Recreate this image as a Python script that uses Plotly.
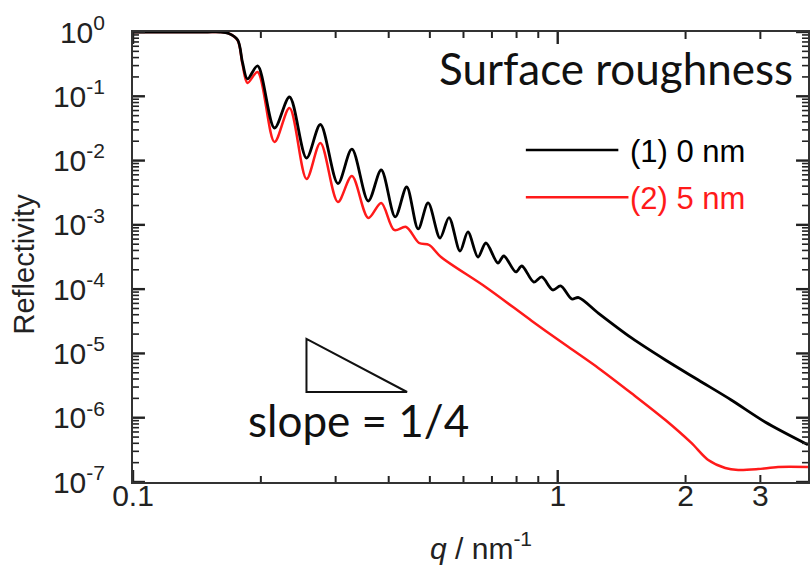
import math
import plotly.graph_objects as go

# ---- data ----
q_0nm = [0.100, 0.130, 0.150, 0.160, 0.168, 0.1764, 0.181, 0.186, 0.1965, 0.2154, 0.2336, 0.2562,
         0.2762, 0.3037, 0.3276, 0.3581, 0.3841, 0.4144, 0.4410, 0.4692, 0.4953, 0.5284,
         0.5547, 0.5888, 0.6146, 0.6490, 0.6776, 0.7230, 0.7467, 0.7968, 0.8233, 0.8785,
         0.9171, 0.9734, 1.016, 1.079, 1.120, 1.248, 1.492, 1.793, 2.143,
         2.562, 3.078, 3.884]
R_0nm = [1.0, 1.0, 1.0, 1.0, 0.95, 0.75, 0.34, 0.186, 0.296, 0.0321, 0.0975, 0.01097,
         0.0364, 0.00440, 0.0151, 0.00235, 0.00713, 0.00133, 0.00388, 0.000863, 0.00219, 0.000625,
         0.00130, 0.000392, 0.000775, 0.000316, 0.000522, 0.000255, 0.000328, 0.000185, 0.000229, 0.000129,
         0.000155, 9.71e-5, 1.12e-4, 7.03e-5, 7.4e-5, 4.2e-5, 1.74e-5, 7.9e-6, 3.86e-6,
         1.89e-6, 8.6e-7, 3.8e-7]

q_5nm = [0.100, 0.130, 0.150, 0.160, 0.168, 0.1764, 0.181, 0.186, 0.1965, 0.2154, 0.2336, 0.2562,
         0.2762, 0.3037, 0.3276, 0.3581, 0.3841, 0.412, 0.4396, 0.4717, 0.4981, 0.5312,
         0.6776, 0.8690, 1.044, 1.248, 1.492, 1.793, 2.064, 2.262, 2.480, 2.660,
         2.964, 3.303, 3.884]
R_5nm = [1.0, 1.0, 1.0, 1.0, 0.95, 0.74, 0.32, 0.161, 0.239, 0.0195, 0.0658, 0.00517,
         0.01876, 0.00227, 0.00575, 0.00128, 0.00219, 0.000832, 0.000927, 0.000522, 0.000486, 0.000316,
         0.000107, 3.2e-5, 1.35e-5, 5.9e-6, 2.4e-6, 9.2e-7, 4.05e-7, 2.2e-7, 1.65e-7, 1.54e-7,
         1.59e-7, 1.71e-7, 1.71e-7]

series_names = ["(1) 0 nm", "(2) 5 nm"]
series_colors = ["#000000", "#ff1a1a"]

x_tickvals = [0.1, 1, 2, 3]
x_ticktext = ["0.1", "1", "2", "3"]
y_tickvals = [1e0, 1e-1, 1e-2, 1e-3, 1e-4, 1e-5, 1e-6, 1e-7]
y_ticktext = ["10<sup>0</sup>", "10<sup>-1</sup>", "10<sup>-2</sup>", "10<sup>-3</sup>",
              "10<sup>-4</sup>", "10<sup>-5</sup>", "10<sup>-6</sup>", "10<sup>-7</sup>"]

X_RANGE = [-1, 0.5893]
Y_RANGE = [-7, 0]
PLOT_W, PLOT_H = 677, 450

AX_FONT = "Liberation Sans, Arial, sans-serif"
CAL_FONT = "Lato, Open Sans, sans-serif"

fig = go.Figure()
fig.add_trace(go.Scatter(x=q_5nm, y=R_5nm, mode="lines", name=series_names[1],
                         line=dict(color=series_colors[1], width=2.5, shape="spline", smoothing=0.9)))
fig.add_trace(go.Scatter(x=q_0nm, y=R_0nm, mode="lines", name=series_names[0],
                         line=dict(color=series_colors[0], width=2.8, shape="spline", smoothing=0.9)))

axis_common = dict(showgrid=False, zeroline=False, showline=True, linecolor="#333",
                   linewidth=2, mirror=True, ticks="inside", tickcolor="rgba(0,0,0,0)",
                   tickwidth=2, ticklen=11,
                   tickfont=dict(family=AX_FONT, size=30, color="#222"))

fig.update_xaxes(type="log", range=X_RANGE, tickmode="array",
                 tickvals=x_tickvals, ticktext=x_ticktext, ticklabelstandoff=-14,
                 **axis_common)
fig.update_yaxes(type="log", range=Y_RANGE, tickmode="array",
                 tickvals=y_tickvals, ticktext=y_ticktext, ticklabelstandoff=20,
                 **axis_common)


# ---- tick marks drawn as line segments on an overlaid unit frame ----
def xfrac(v):
    return (math.log10(v) - X_RANGE[0]) / (X_RANGE[1] - X_RANGE[0])


def yfrac(v):
    return (math.log10(v) - Y_RANGE[0]) / (Y_RANGE[1] - Y_RANGE[0])


groups = {}  # width -> (xs, ys)


def tick(side, pos, length, width):
    xs, ys = groups.setdefault(width, ([], []))
    if side in ("bottom", "top"):
        ln = length / PLOT_H
        y0, y1 = (0, ln) if side == "bottom" else (1, 1 - ln)
        xs += [pos, pos, None]
        ys += [y0, y1, None]
    else:
        ln = length / PLOT_W
        x0, x1 = (0, ln) if side == "left" else (1, 1 - ln)
        xs += [x0, x1, None]
        ys += [pos, pos, None]


for side in ("bottom", "top"):
    for v in (0.1, 1):
        tick(side, xfrac(v), 12, 2.4)
    for v in (2, 3):
        tick(side, xfrac(v), 7, 2)
    for m in range(2, 10):
        tick(side, xfrac(m * 0.1), 6, 2)

for side in ("left", "right"):
    for e in range(-7, 1):
        tick(side, yfrac(10.0 ** e), 12, 2.4)
    for e in range(-7, 0):
        for m in range(2, 10):
            tick(side, yfrac(m * 10.0 ** e), 6, 1.6)

for w, (xs, ys) in groups.items():
    fig.add_trace(go.Scatter(x=xs, y=ys, xaxis="x2", yaxis="y2", mode="lines",
                             line=dict(color="#222", width=w), hoverinfo="skip",
                             showlegend=False, cliponaxis=False))

fig.update_layout(
    xaxis2=dict(overlaying="x", range=[0, 1], visible=False, fixedrange=True),
    yaxis2=dict(overlaying="y", range=[0, 1], visible=False, fixedrange=True),
)

# legend drawn by hand
leg_y = [0.738, 0.633]
leg_x1 = [0.719, 0.734]
for i in range(2):
    fig.add_shape(type="line", xref="paper", yref="paper", x0=0.582, x1=leg_x1[i],
                  y0=leg_y[i], y1=leg_y[i], line=dict(color=series_colors[i], width=2.5))
    fig.add_annotation(xref="paper", yref="paper", x=0.733, y=leg_y[i] - 0.004,
                       xanchor="left", yanchor="middle", showarrow=False,
                       text=series_names[i],
                       font=dict(family=AX_FONT, size=31, color=series_colors[i]))

fig.add_annotation(xref="paper", yref="paper", x=0.981, y=0.92, xanchor="right",
                   yanchor="middle", showarrow=False, text="Surface roughness",
                   font=dict(family=CAL_FONT, size=44, color="#111"))

# slope triangle
fig.add_shape(type="path", xref="paper", yref="paper",
              path="M 0.257 0.318 L 0.257 0.2 L 0.406 0.2 Z",
              line=dict(color="#111", width=2))
fig.add_annotation(xref="paper", yref="paper", x=0.168, y=0.138, xanchor="left",
                   yanchor="middle", showarrow=False, text="slope = 1/4",
                   font=dict(family=CAL_FONT, size=44, color="#111"))

# axis titles
fig.add_annotation(xref="paper", yref="paper", x=-0.161, y=0.484, textangle=-90,
                   xanchor="center", yanchor="middle", showarrow=False,
                   text="Reflectivity", font=dict(family=AX_FONT, size=29, color="#222"))
fig.add_annotation(xref="paper", yref="paper", x=0.5155, y=-0.142,
                   xanchor="center", yanchor="middle", showarrow=False,
                   text="<i>q</i> / nm<sup>-1</sup>",
                   font=dict(family=AX_FONT, size=30, color="#222"))

fig.update_layout(width=812, height=565, showlegend=False,
                  margin=dict(l=133, r=2, t=32, b=83),
                  plot_bgcolor="white", paper_bgcolor="white")

fig.write_html("out.html")
